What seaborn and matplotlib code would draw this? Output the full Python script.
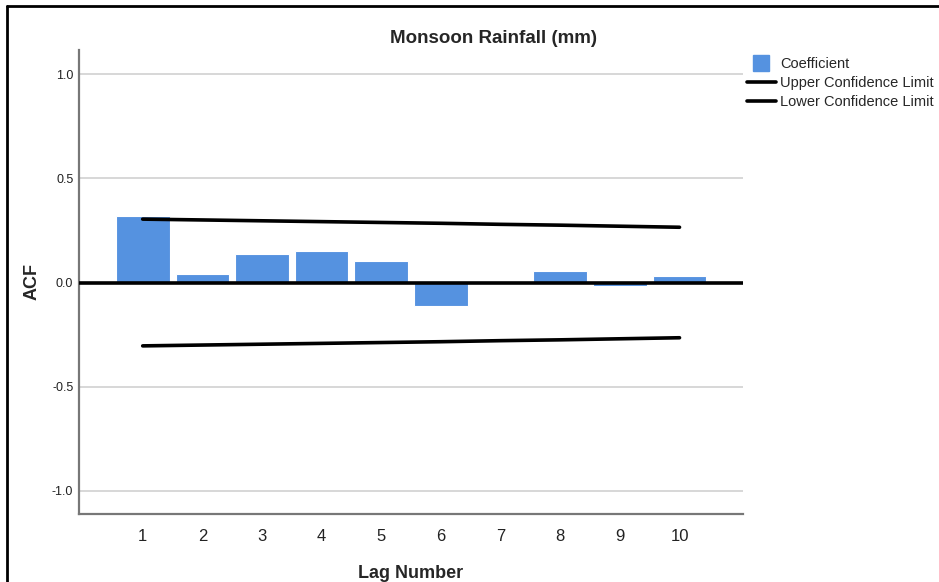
import matplotlib
matplotlib.use('Agg')
import matplotlib.pyplot as plt
import pandas as pd
import seaborn as sns
from matplotlib.lines import Line2D

# values
lags = [1, 2, 3, 4, 5, 6, 7, 8, 9, 10]
coefficient = [0.317, 0.040, 0.138, 0.149, 0.102, -0.112, 0.001, 0.053, -0.018, 0.033]
upper_limit = [0.304, 0.300, 0.296, 0.292, 0.288, 0.284, 0.279, 0.275, 0.270, 0.265]
lower_limit = [-0.304, -0.300, -0.296, -0.292, -0.288, -0.284, -0.279, -0.275, -0.270, -0.265]
y_ticks = [-1.0, -0.5, 0.0, 0.5, 1.0]

acf = pd.DataFrame({'lag': lags,
                    'coef': coefficient,
                    'upper': upper_limit,
                    'lower': lower_limit})

sns.set_style('white')
plt.rcParams['font.family'] = ['Liberation Sans', 'DejaVu Sans']

fig = plt.figure(figsize=(9.39, 5.82), dpi=100)
ax = fig.add_axes([0.084, 0.117, 0.707, 0.797])

ax.grid(axis='y', color='#d4d4d4', linewidth=1.3, zorder=0)
ax.set_axisbelow(True)

sns.barplot(data=acf, x='lag', y='coef', native_scale=True,
            color='#5592e0', saturation=1, width=0.9,
            edgecolor='white', linewidth=0.8,
            label='Coefficient', ax=ax, zorder=2)

ax.axhline(0, color='black', linewidth=2.6, zorder=3)

sns.lineplot(data=acf, x='lag', y='upper', color='black', linewidth=2.6,
             label='Upper Confidence Limit', ax=ax, zorder=4)
sns.lineplot(data=acf, x='lag', y='lower', color='black', linewidth=2.6,
             label='Lower Confidence Limit', ax=ax, zorder=4)

ax.set_xlim(-0.07, 11.06)
ax.set_ylim(-1.11, 1.115)
ax.set_xticks(lags)
ax.set_xticklabels([str(l) for l in lags], fontsize=12, color='#222222')
ax.set_yticks(y_ticks)
ax.set_yticklabels(['-1.0', '-0.5', '0.0', '0.5', '1.0'], fontsize=9, color='#222222')
ax.tick_params(axis='both', length=0)
ax.tick_params(axis='x', pad=11)
ax.tick_params(axis='y', pad=4)

for side in ['top', 'right']:
    ax.spines[side].set_visible(False)
for side in ['left', 'bottom']:
    ax.spines[side].set_color('#777777')
    ax.spines[side].set_linewidth(1.6)

ax.set_title('Monsoon Rainfall (mm)', fontsize=13.5, fontweight='bold',
             x=0.625, pad=5)
ax.set_xlabel('Lag Number', fontsize=13, fontweight='bold', labelpad=15)
ax.set_ylabel('ACF', fontsize=13, fontweight='bold', labelpad=8)

# legend in the reference order: bar first, then the two limits
handles, labels = ax.get_legend_handles_labels()
lookup = dict(zip(labels, handles))
order = ['Coefficient', 'Upper Confidence Limit', 'Lower Confidence Limit']
leg_handles = [Line2D([], [], marker='s', markersize=11, linestyle='none',
                      color='#5592e0')] + [lookup[k] for k in order[1:]]
ax.legend(leg_handles, order, loc='upper left', bbox_to_anchor=(0.795, 0.902),
          bbox_transform=fig.transFigure, frameon=False, fontsize=10.5,
          handlelength=2.0, handletextpad=0.3, labelspacing=0.33,
          borderpad=0, borderaxespad=0)

# frame lines of the exported picture (top and left only)
fig.add_artist(Line2D([0.0075, 1.0], [0.99, 0.99], transform=fig.transFigure,
                      color='black', linewidth=2))
fig.add_artist(Line2D([0.0075, 0.0075], [0.0, 0.99], transform=fig.transFigure,
                      color='black', linewidth=2))

plt.savefig('out.png', dpi=100)
